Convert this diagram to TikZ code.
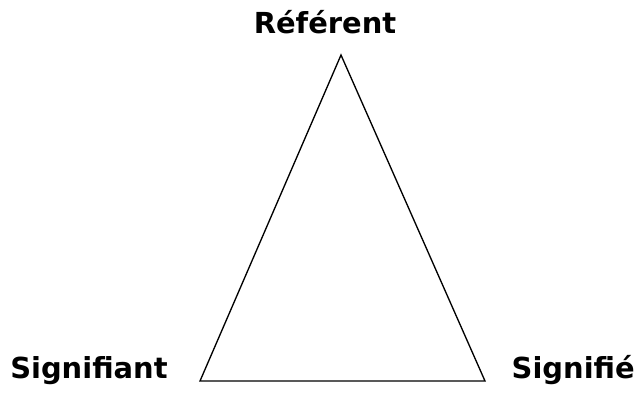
\documentclass[tikz,border=0pt]{standalone}
\usepackage{fontspec}
\setmainfont{DejaVu Sans}
\usepackage{tikz}
\usetikzlibrary{calc}

\begin{document}
\begin{tikzpicture}[
  x=0.75pt, y=-0.75pt,
  pole/.style={font=\bfseries\fontsize{21.7}{24}\selectfont, inner sep=0pt},
  ]
  \useasboundingbox (0,0) rectangle (636,394);
  % the three poles of the triangle
  \coordinate (apex) at (341,55);
  \coordinate (left) at (200,381);
  \coordinate (right) at (485,381);
  \draw[line width=1pt, line join=miter] (apex) -- (left) -- (right) -- cycle;

  % labels
  \node[pole, anchor=base] (referent) at (325,33) {Référent};
  \node[pole, anchor=base west] (signifiant) at (10,378) {Signifiant};
  \node[pole, anchor=base east] (signifie) at (635,378) {Signifié};
\end{tikzpicture}
\end{document}
